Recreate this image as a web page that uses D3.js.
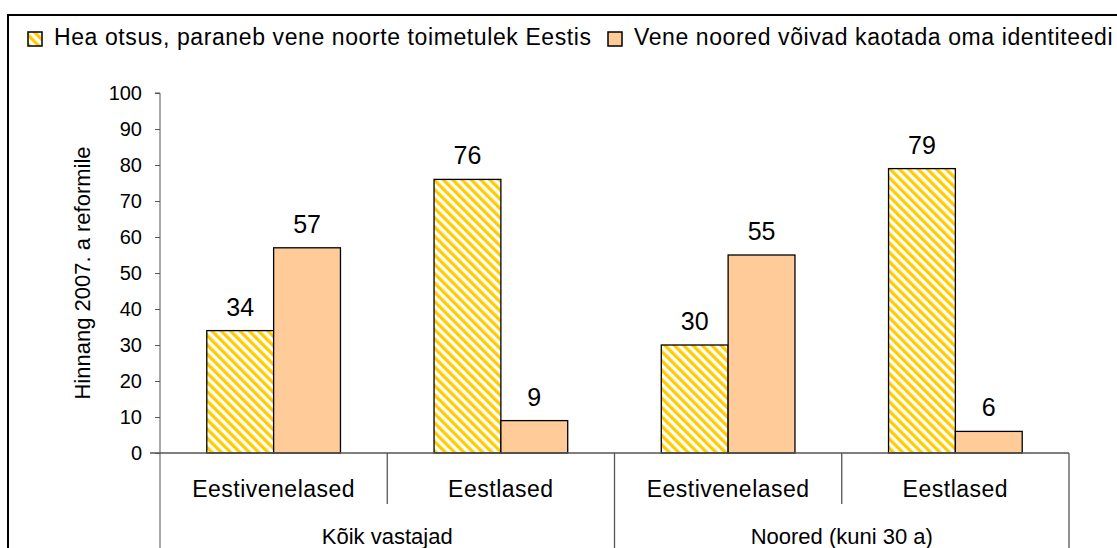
<!DOCTYPE html>
<html>
<head>
<meta charset="utf-8">
<script src="https://cdn.jsdelivr.net/npm/d3@7"></script>
<style>
  body { margin: 0; background: #fff; }
  svg { display: block; font-family: "Liberation Sans", Arial, sans-serif; }
</style>
</head>
<body>
<svg id="chart" width="1117" height="548"></svg>
<script>
const groups = ["Kõik vastajad", "Noored (kuni 30 a)"]
const categories = ["Eestivenelased", "Eestlased"]
const series = ["Hea otsus, paraneb vene noorte toimetulek Eestis", "Vene noored võivad kaotada oma identiteedi"]
const good_decision = [34, 76, 30, 79]
const lose_identity = [57, 9, 55, 6]
const y_ticks = [0, 10, 20, 30, 40, 50, 60, 70, 80, 90, 100]

const svg = d3.select("#chart")
const margin = {top: 93, left: 160, bottom: 453, right: 1069}

// hatch pattern for first series
const defs = svg.append("defs")
const pat = defs.append("pattern")
  .attr("id", "hatch")
  .attr("patternUnits", "userSpaceOnUse")
  .attr("width", 6.6).attr("height", 6.6)
  .attr("patternTransform", "rotate(-45)")
pat.append("rect").attr("width", 6.6).attr("height", 6.6).attr("fill", "#fff")
pat.append("rect").attr("width", 3.3).attr("height", 6.6).attr("fill", "#FFCC00")

const fills = ["url(#hatch)", "#FFCC99"]

// outer frame (runs off the picture on right and bottom)
svg.append("rect")
  .attr("x", 8).attr("y", 15).attr("width", 1130).attr("height", 560)
  .attr("fill", "none").attr("stroke", "#000").attr("stroke-width", 2)

// rows: one per category within group
let rows = []
groups.forEach((g, gi) => categories.forEach((c, ci) => {
  let i = gi * categories.length + ci
  rows.push({key: g + "|" + c, group: g, cat: c, values: [good_decision[i], lose_identity[i]]})
}))

const x = d3.scaleBand()
  .domain(rows.map(d => d.key))
  .range([margin.left, margin.right])
const xInner = d3.scaleBand()
  .domain([0, 1])
  .range([0, x.bandwidth()])
  .paddingOuter(0.7)
  .paddingInner(0)
const y = d3.scaleLinear().domain([0, 100]).range([margin.bottom, margin.top])

// y axis
const yAxis = d3.axisLeft(y).tickValues(y_ticks).tickSize(5).tickPadding(13)
const ya = svg.append("g")
  .attr("transform", `translate(${margin.left},0)`)
  .call(yAxis)
ya.select(".domain").attr("stroke", "#555").attr("d", `M-5,${y(100)}H0V548`)
ya.selectAll(".tick line").attr("stroke", "#555")
ya.selectAll(".tick text")
  .attr("font-size", 20).attr("fill", "#000")
  .attr("font-family", "Liberation Sans, Arial, sans-serif")

svg.append("text")
  .attr("transform", `translate(90, ${(y(0) + y(100)) / 2}) rotate(-90)`)
  .attr("text-anchor", "middle")
  .attr("font-size", 22)
  .text("Hinnang 2007. a reformile")

// bars
const barG = svg.append("g")
rows.forEach(r => {
  r.values.forEach((v, si) => {
    let bx = x(r.key) + xInner(si)
    barG.append("rect")
      .attr("x", bx).attr("y", y(v))
      .attr("width", xInner.bandwidth()).attr("height", y(0) - y(v))
      .attr("fill", fills[si]).attr("stroke", "#000").attr("stroke-width", 1.3)
    barG.append("text")
      .attr("x", bx + xInner.bandwidth() / 2).attr("y", y(v) - 15)
      .attr("text-anchor", "middle").attr("font-size", 25)
      .text(v)
  })
})

// x axis baseline
svg.append("line")
  .attr("x1", margin.left - 10).attr("x2", margin.right)
  .attr("y1", y(0)).attr("y2", y(0))
  .attr("stroke", "#555").attr("stroke-width", 1.3)

// category separators and labels
rows.forEach((r, i) => {
  svg.append("text")
    .attr("x", x(r.key) + x.bandwidth() / 2).attr("y", 497)
    .attr("text-anchor", "middle").attr("font-size", 23)
    .attr("letter-spacing", 0.5)
    .text(r.cat)
  if (i > 0 && i % categories.length != 0) {
    svg.append("line")
      .attr("x1", x(r.key)).attr("x2", x(r.key))
      .attr("y1", y(0)).attr("y2", 504)
      .attr("stroke", "#555").attr("stroke-width", 1.3)
  }
})

groups.forEach((g, gi) => {
  let first = x(g + "|" + categories[0])
  let last = x(g + "|" + categories[categories.length - 1]) + x.bandwidth()
  svg.append("text")
    .attr("x", (first + last) / 2).attr("y", 544)
    .attr("text-anchor", "middle").attr("font-size", 22)
    .text(g)
  svg.append("line")
    .attr("x1", last).attr("x2", last)
    .attr("y1", y(0)).attr("y2", 548)
    .attr("stroke", "#555").attr("stroke-width", 1.3)
})

// legend
const legendX = [28, 608]
series.forEach((s, si) => {
  svg.append("rect")
    .attr("x", legendX[si]).attr("y", 32).attr("width", 14).attr("height", 14)
    .attr("fill", fills[si])
    .attr("stroke", "#000").attr("stroke-width", 1.5)
  svg.append("text")
    .attr("x", legendX[si] + 26).attr("y", 45)
    .attr("font-size", 23).attr("letter-spacing", 0.6)
    .text(s)
})
</script>
</body>
</html>
